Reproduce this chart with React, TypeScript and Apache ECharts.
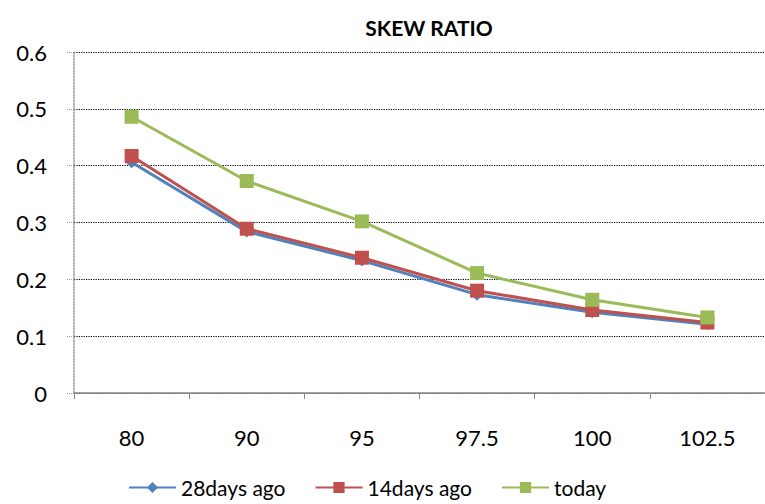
import React, { useEffect, useRef } from "react";
import * as echarts from "echarts";

const categories = ["80", "90", "95", "97.5", "100", "102.5"];
const days28 = [0.406, 0.284, 0.233, 0.173, 0.142, 0.121];
const days14 = [0.417, 0.289, 0.238, 0.18, 0.146, 0.124];
const today = [0.486, 0.373, 0.302, 0.211, 0.164, 0.133];
const seriesNames = ["28days ago", "14days ago", "today"];

const FONT = "Lato, 'Open Sans', sans-serif";

export default function App() {
  const ref = useRef<HTMLDivElement>(null);
  useEffect(() => {
    if (!ref.current) return;
    const chart = echarts.init(ref.current, null, { renderer: "svg" });
    const mk = (name: string, data: number[], color: string, symbol: string, size: number) => ({
      name,
      type: "line",
      data,
      symbol,
      symbolSize: size,
      showAllSymbol: true,
      lineStyle: { color, width: 3 },
      itemStyle: { color, borderColor: color, borderWidth: 0 },
      z: 2,
    });
    chart.setOption({
      animation: false,
      backgroundColor: "#ffffff",
      title: {
        text: "SKEW RATIO",
        left: 424,
        top: 12,
        textAlign: "center",
        textStyle: { fontFamily: FONT, fontWeight: "bold", fontSize: 21, color: "#000" },
      },
      legend: {
        top: 477,
        left: 128,
        padding: 0,
        itemWidth: 47,
        itemHeight: 14,
        itemGap: 29,
        textStyle: { fontFamily: FONT, fontSize: 21, color: "#000" },
        data: seriesNames,
      },
      grid: { left: 74, top: 52, width: 700, height: 341, containLabel: false },
      xAxis: {
        type: "category",
        data: categories,
        boundaryGap: true,
        axisLine: { show: true, lineStyle: { color: "#868686", width: 1.5 } },
        axisTick: { show: true, length: 6, interval: 0, lineStyle: { color: "#868686" } },
        axisLabel: { margin: 33, fontFamily: FONT, fontSize: 22, color: "#000" },
        splitLine: { show: false },
      },
      yAxis: {
        type: "value",
        min: 0,
        max: 0.6,
        interval: 0.1,
        axisLine: { show: true, lineStyle: { color: "#9a9a9a", type: "dotted", width: 1.5 } },
        axisTick: { show: true, length: 7, lineStyle: { color: "#9a9a9a", type: "dotted" } },
        axisLabel: { margin: 27, fontFamily: FONT, fontSize: 22, color: "#000" },
        splitLine: { show: true, lineStyle: { color: "#000", type: "dotted", width: 1.2 } },
      },
      series: [
        mk(seriesNames[0], days28, "#4F81BD", "diamond", 12),
        mk(seriesNames[1], days14, "#C0504D", "rect", 14),
        mk(seriesNames[2], today, "#9BBB59", "rect", 14),
      ],
    });
    return () => chart.dispose();
  }, []);
  return (
    <div
      ref={ref}
      style={{ position: "fixed", left: 0, top: 0, width: 765, height: 504, overflow: "hidden" }}
    />
  );
}
